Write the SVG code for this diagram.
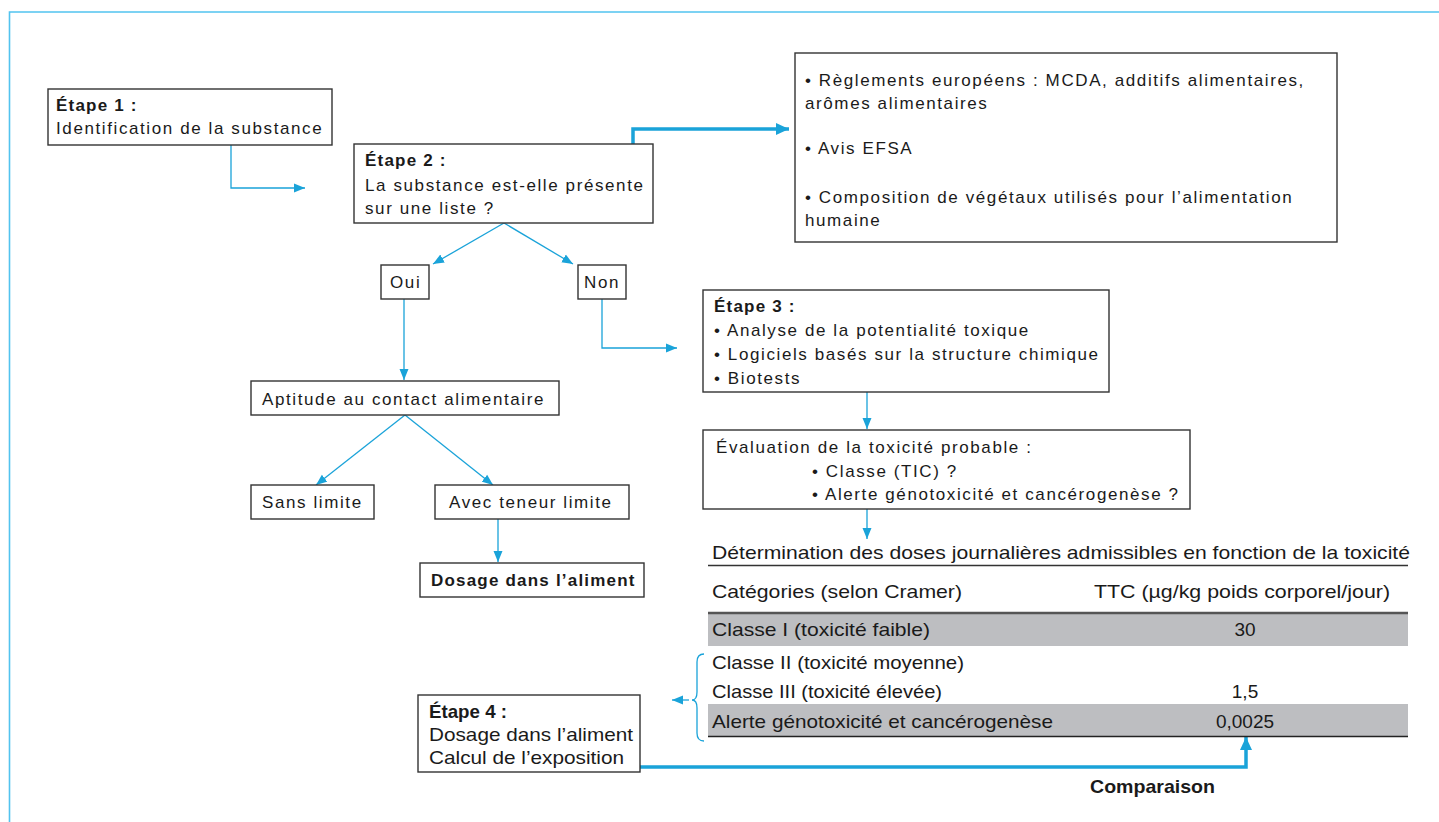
<svg xmlns="http://www.w3.org/2000/svg" width="1439" height="822" viewBox="0 0 1439 822">
<defs>
<style>
.bx{fill:#fff;stroke:#333;stroke-width:1.4}
.t{font-family:"Liberation Sans",Arial,sans-serif;font-size:17px;letter-spacing:1.6px;fill:#1a1a1a}
.b{font-weight:bold;letter-spacing:1.2px}
.n{font-family:"Liberation Sans Narrow","Liberation Sans",Arial,sans-serif;font-size:19px;fill:#1a1a1a}
.nb{font-weight:bold}
.c{fill:none;stroke:#1aa3d9;stroke-width:1.3}
.ct{fill:none;stroke:#1aa3d9;stroke-width:3.5}
.band{fill:#bdbec1}
</style>
<marker id="a" markerUnits="userSpaceOnUse" markerWidth="12" markerHeight="10" refX="11" refY="5" orient="auto">
<path d="M0,0.5 L11,5 L0,9.5 z" fill="#1aa3d9"/>
</marker>
<marker id="at" markerUnits="userSpaceOnUse" markerWidth="14" markerHeight="14" refX="13" refY="7" orient="auto">
<path d="M0,1 L13,7 L0,13 z" fill="#1aa3d9"/>
</marker>
</defs>
<rect width="1439" height="822" fill="#fff"/>
<path d="M9.5,822 V12 H1439" fill="none" stroke="#52c3ef" stroke-width="1.6"/>

<g id="connectors">
<path class="c" d="M231,145 V188 H305" marker-end="url(#a)"/>
<path class="ct" d="M633,144 V129 H789" marker-end="url(#at)"/>
<path class="c" d="M504,223 L433,264" marker-end="url(#a)"/>
<path class="c" d="M504,223 L573,264" marker-end="url(#a)"/>
<path class="c" d="M404,299 V380" marker-end="url(#a)"/>
<path class="c" d="M602,299 V348 H677" marker-end="url(#a)"/>
<path class="c" d="M405,415 L316,485" marker-end="url(#a)"/>
<path class="c" d="M405,415 L493,485" marker-end="url(#a)"/>
<path class="c" d="M498,519 V562" marker-end="url(#a)"/>
<path class="c" d="M867,392 V429" marker-end="url(#a)"/>
<path class="c" d="M867,509 V539" marker-end="url(#a)"/>
<path class="c" d="M704,654 Q697,654 697,662 V692 Q697,700 692,700 Q697,700 697,708 V733 Q697,741 704,741"/>
<path class="c" d="M689,700 H672" marker-end="url(#a)"/>
<path class="ct" d="M640,767 H1246 V737" marker-end="url(#at)"/>
</g>

<g id="etape1">
<rect class="bx" x="48" y="89" width="284" height="56"/>
<text class="t b" x="56" y="111">Étape 1 :</text>
<text class="t" x="56" y="134">Identification de la substance</text>
</g>

<g id="etape2">
<rect class="bx" x="354" y="144" width="299" height="79"/>
<text class="t b" x="365" y="166">Étape 2 :</text>
<text class="t" x="365" y="191">La substance est-elle présente</text>
<text class="t" x="365" y="214">sur une liste ?</text>
</g>

<g id="listes">
<rect class="bx" x="795" y="53" width="542" height="189"/>
<text class="t" x="805" y="86">• Règlements européens : MCDA, additifs alimentaires,</text>
<text class="t" x="805" y="109">arômes alimentaires</text>
<text class="t" x="805" y="154">• Avis EFSA</text>
<text class="t" x="805" y="203">• Composition de végétaux utilisés pour l’alimentation</text>
<text class="t" x="805" y="226">humaine</text>
</g>

<g id="oui">
<rect class="bx" x="381" y="265" width="48" height="34"/>
<text class="t" x="390" y="288">Oui</text>
</g>

<g id="non">
<rect class="bx" x="578" y="265" width="48" height="34"/>
<text class="t" x="584" y="288">Non</text>
</g>

<g id="aptitude">
<rect class="bx" x="251" y="381" width="308" height="34"/>
<text class="t" x="262" y="405">Aptitude au contact alimentaire</text>
</g>

<g id="sans-limite">
<rect class="bx" x="251" y="485" width="123" height="34"/>
<text class="t" x="262" y="508">Sans limite</text>
</g>

<g id="avec-teneur">
<rect class="bx" x="435" y="485" width="194" height="34"/>
<text class="t" x="449" y="508">Avec teneur limite</text>
</g>

<g id="dosage">
<rect class="bx" x="420" y="563" width="224" height="34"/>
<text class="t b" x="431" y="586">Dosage dans l’aliment</text>
</g>

<g id="etape3">
<rect class="bx" x="703" y="290" width="406" height="102"/>
<text class="t b" x="714" y="312">Étape 3 :</text>
<text class="t" x="714" y="336">• Analyse de la potentialité toxique</text>
<text class="t" x="714" y="360">• Logiciels basés sur la structure chimique</text>
<text class="t" x="714" y="384">• Biotests</text>
</g>

<g id="evaluation">
<rect class="bx" x="703" y="430" width="487" height="79"/>
<text class="t" x="716" y="453">Évaluation de la toxicité probable :</text>
<text class="t" x="812" y="477">• Classe (TIC) ?</text>
<text class="t" x="812" y="500">• Alerte génotoxicité et cancérogenèse ?</text>
</g>

<g id="tableau">
<rect class="band" x="708" y="613" width="700" height="33"/>
<rect class="band" x="708" y="704" width="700" height="32"/>
<line x1="708" y1="565.5" x2="1408" y2="565.5" stroke="#333" stroke-width="1.6"/>
<line x1="708" y1="613" x2="1408" y2="613" stroke="#555" stroke-width="2.6"/>
<line x1="708" y1="736.5" x2="1408" y2="736.5" stroke="#222" stroke-width="1.6"/>
<text class="n" x="712" y="559" textLength="698" lengthAdjust="spacingAndGlyphs">Détermination des doses journalières admissibles en fonction de la toxicité</text>
<text class="n" x="712" y="598" textLength="250" lengthAdjust="spacingAndGlyphs">Catégories (selon Cramer)</text>
<text class="n" x="1094" y="598" textLength="296" lengthAdjust="spacingAndGlyphs">TTC (µg/kg poids corporel/jour)</text>
<text class="n" x="712" y="636" textLength="218" lengthAdjust="spacingAndGlyphs">Classe I (toxicité faible)</text>
<text class="n" x="1245" y="636" text-anchor="middle">30</text>
<text class="n" x="712" y="669" textLength="252" lengthAdjust="spacingAndGlyphs">Classe II (toxicité moyenne)</text>
<text class="n" x="712" y="698" textLength="230" lengthAdjust="spacingAndGlyphs">Classe III (toxicité élevée)</text>
<text class="n" x="1245" y="698" text-anchor="middle">1,5</text>
<text class="n" x="712" y="728" textLength="341" lengthAdjust="spacingAndGlyphs">Alerte génotoxicité et cancérogenèse</text>
<text class="n" x="1245" y="728" text-anchor="middle">0,0025</text>
</g>

<g id="etape4">
<rect class="bx" x="418" y="695" width="222" height="77"/>
<text class="n nb" x="429" y="718" textLength="78" lengthAdjust="spacingAndGlyphs">Étape 4 :</text>
<text class="n" x="429" y="741" textLength="204" lengthAdjust="spacingAndGlyphs">Dosage dans l’aliment</text>
<text class="n" x="429" y="764" textLength="195" lengthAdjust="spacingAndGlyphs">Calcul de l’exposition</text>
</g>

<g id="comparaison">
<text class="n nb" x="1090" y="793" font-size="17" textLength="125" lengthAdjust="spacingAndGlyphs">Comparaison</text>
</g>
</svg>
